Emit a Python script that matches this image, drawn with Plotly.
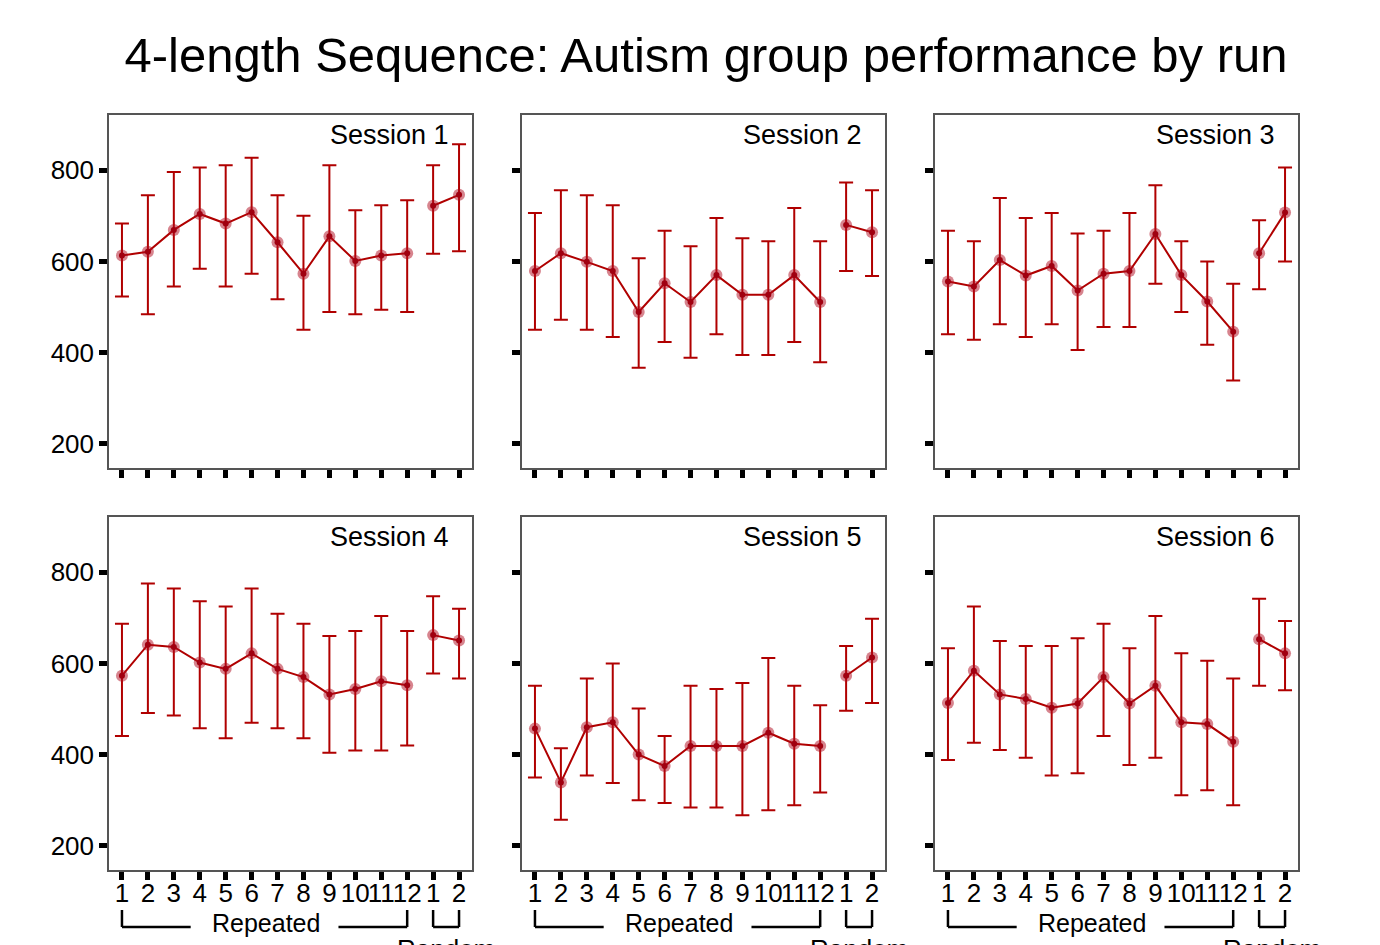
import plotly.graph_objects as go

W, H = 1380, 945

# ---------------- data ----------------
tick_text = ["1", "2", "3", "4", "5", "6", "7", "8", "9", "10", "11", "12", "1", "2"]
runs = list(range(1, 15))
n_repeated = 12
sessions = ["Session 1", "Session 2", "Session 3", "Session 4", "Session 5", "Session 6"]

s1_mean = [613, 621, 669, 704, 683, 708, 642, 573, 655, 601, 613, 618, 722, 746]
s1_upper = [683, 745, 796, 806, 811, 827, 745, 700, 811, 712, 723, 734, 811, 857]
s1_lower = [523, 484, 545, 584, 545, 573, 517, 450, 489, 484, 494, 489, 617, 622]

s2_mean = [579, 618, 599, 579, 489, 552, 511, 570, 527, 527, 570, 511, 680, 664]
s2_upper = [706, 756, 745, 723, 607, 667, 633, 695, 651, 644, 717, 644, 773, 756]
s2_lower = [450, 472, 450, 434, 367, 423, 389, 440, 395, 395, 423, 379, 579, 568]

s3_mean = [556, 545, 603, 569, 590, 536, 573, 579, 660, 570, 512, 446, 618, 707]
s3_upper = [667, 644, 739, 695, 706, 661, 667, 706, 767, 644, 600, 551, 690, 806]
s3_lower = [440, 428, 462, 434, 462, 406, 456, 456, 551, 489, 417, 339, 539, 600]

s4_mean = [573, 641, 636, 602, 588, 622, 588, 570, 532, 544, 561, 552, 662, 650]
s4_upper = [687, 775, 764, 736, 725, 764, 709, 687, 660, 671, 704, 671, 747, 720]
s4_lower = [441, 491, 486, 458, 436, 470, 458, 436, 404, 409, 409, 420, 578, 567]

s5_mean = [457, 339, 460, 471, 400, 375, 419, 419, 419, 448, 424, 419, 573, 613]
s5_upper = [551, 414, 567, 600, 501, 441, 551, 544, 557, 612, 551, 508, 638, 698]
s5_lower = [350, 257, 354, 338, 300, 294, 284, 284, 267, 278, 289, 317, 496, 513]

s6_mean = [513, 584, 532, 522, 503, 512, 570, 512, 551, 471, 467, 428, 653, 622]
s6_upper = [633, 725, 649, 638, 638, 655, 687, 633, 704, 622, 606, 567, 742, 693]
s6_lower = [388, 426, 410, 393, 354, 359, 441, 377, 393, 311, 322, 289, 551, 541]

y_ticks = [200, 400, 600, 800]

means = [s1_mean, s2_mean, s3_mean, s4_mean, s5_mean, s6_mean]
uppers = [s1_upper, s2_upper, s3_upper, s4_upper, s5_upper, s6_upper]
lowers = [s1_lower, s2_lower, s3_lower, s4_lower, s5_lower, s6_lower]

# ---------------- layout geometry (pixels) ----------------
col_x = [(109, 472), (522, 885), (935, 1298)]
row_y = [(115, 468), (517, 870)]

RED = "#B00000"
FONT = "Liberation Sans, Arial, Helvetica, sans-serif"

fig = go.Figure()
layout = dict(
    width=W, height=H,
    margin=dict(l=0, r=0, t=0, b=0),
    paper_bgcolor="white", plot_bgcolor="white",
    showlegend=False,
    font=dict(family=FONT, size=26, color="black"),
)

annotations = []
shapes = []

for i in range(6):
    r, c = divmod(i, 3)
    k = i + 1
    xa = "x" if k == 1 else f"x{k}"
    ya = "y" if k == 1 else f"y{k}"
    m, up, lo = means[i], uppers[i], lowers[i]
    err_plus = [u - v for u, v in zip(up, m)]
    err_minus = [v - l for v, l in zip(m, lo)]
    # split into repeated and random segments (line broken between them)
    for seg in (slice(0, n_repeated), slice(n_repeated, len(runs))):
        xs = runs[seg]
        ys = m[seg]
        fig.add_trace(go.Scatter(
            x=xs, y=ys, xaxis=xa, yaxis=ya, mode="lines",
            line=dict(color=RED, width=2),
            error_y=dict(type="data", symmetric=False,
                         array=err_plus[seg], arrayminus=err_minus[seg],
                         color=RED, thickness=2, width=7),
            hoverinfo="skip",
        ))
        # blurred halo
        fig.add_trace(go.Scatter(
            x=xs, y=ys, xaxis=xa, yaxis=ya, mode="markers",
            marker=dict(color="rgba(175,10,30,0.5)", size=12, line=dict(width=0)),
            hoverinfo="skip",
        ))
        fig.add_trace(go.Scatter(
            x=xs, y=ys, xaxis=xa, yaxis=ya, mode="markers",
            marker=dict(color="#A00010", size=6, line=dict(width=0)),
            hoverinfo="skip",
        ))

    x0, x1 = col_x[c]
    y0, y1 = row_y[r]
    xkey = "xaxis" if k == 1 else f"xaxis{k}"
    ykey = "yaxis" if k == 1 else f"yaxis{k}"
    layout[xkey] = dict(
        domain=[x0 / W, x1 / W], anchor=ya, range=[0.5, 14.5],
        tickmode="array", tickvals=runs, ticktext=tick_text,
        showticklabels=(r == 1), tickangle=0, ticklabelstandoff=-9,
        ticks="outside", ticklen=8, tickwidth=5, tickcolor="black",
        showline=True, linecolor="#555555", linewidth=1.5, mirror=True,
        showgrid=False, zeroline=False, fixedrange=True,
        tickfont=dict(size=26, family=FONT),
    )
    layout[ykey] = dict(
        domain=[1 - y1 / H, 1 - y0 / H], anchor=xa, range=[147, 921],
        tickmode="array", tickvals=y_ticks,
        showticklabels=(c == 0),
        ticks="outside", ticklen=8, tickwidth=5, tickcolor="black",
        showline=True, linecolor="#555555", linewidth=1.5, mirror=True,
        showgrid=False, zeroline=False, fixedrange=True,
        tickfont=dict(size=26, family=FONT),
    )
    # session label
    annotations.append(dict(
        text=sessions[i], xref="paper", yref="paper",
        x=(x1 - 21) / W, y=1 - (y0 + 20) / H,
        xanchor="right", yanchor="middle", showarrow=False,
        font=dict(size=27, family=FONT, color="black"),
    ))

    # brackets under the bottom row
    if r == 1:
        yb_top = 1 - 910 / H
        yb_bot = 1 - 927 / H
        rep_first, rep_last = runs[0], runs[n_repeated - 1]
        rep_mid = (rep_first + rep_last) / 2
        gap = 2.85
        line_style = dict(color="black", width=2.5)
        for (xa0, ya0, xa1, ya1) in [
            (rep_first, yb_top, rep_first, yb_bot),
            (rep_first, yb_bot, rep_mid - gap, yb_bot),
            (rep_mid + gap, yb_bot, rep_last, yb_bot),
            (rep_last, yb_bot, rep_last, yb_top),
            (runs[n_repeated], yb_top, runs[n_repeated], yb_bot),
            (runs[n_repeated], yb_bot, runs[-1], yb_bot),
            (runs[-1], yb_bot, runs[-1], yb_top),
        ]:
            shapes.append(dict(type="line", xref=xa, yref="paper",
                               x0=xa0, y0=ya0, x1=xa1, y1=ya1, line=line_style))
        annotations.append(dict(
            text="Repeated", xref=xa, yref="paper", x=rep_mid + 0.05, y=1 - 923 / H,
            xanchor="center", yanchor="middle", showarrow=False,
            font=dict(size=25, family=FONT, color="black"),
        ))
        annotations.append(dict(
            text="Random", xref=xa, yref="paper",
            x=(runs[n_repeated] + runs[-1]) / 2, y=1 - 932 / H,
            xanchor="center", yanchor="top", showarrow=False,
            font=dict(size=26, family=FONT, color="black"),
        ))

layout["title"] = dict(
    text="4-length Sequence: Autism group performance by run",
    x=706 / W, xanchor="center", y=1 - 55 / H, yanchor="middle",
    font=dict(size=49, family=FONT, color="black"),
)
layout["annotations"] = annotations
layout["shapes"] = shapes
fig.update_layout(**layout)

fig.write_html("out.html")
